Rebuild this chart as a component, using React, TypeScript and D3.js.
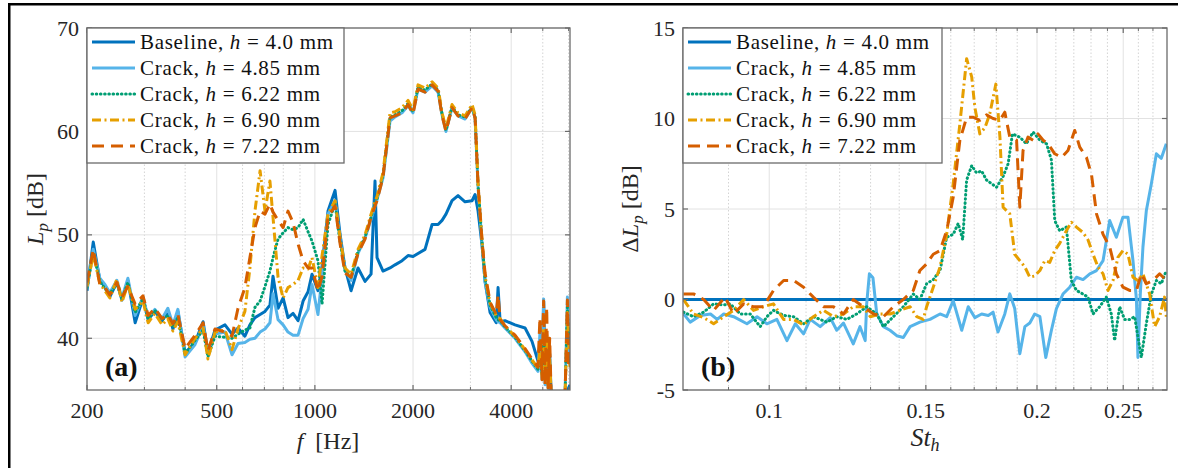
import React from "react";
import * as d3 from "d3";

// ---------------- data: panel (a) ----------------
const freqHz = [200, 209, 219, 227, 235, 247, 256, 267, 281, 297, 308, 323, 340, 354, 367, 380, 400, 429, 454, 470, 494, 530, 557, 581, 610, 632, 655, 679, 703, 728, 744, 771, 799, 827, 857, 888, 920, 953, 980, 1022, 1052, 1097, 1153, 1194, 1237, 1291, 1356, 1425, 1487, 1529, 1551, 1618, 1700, 1761, 1851, 1931, 2000, 2072, 2177, 2288, 2387, 2455, 2524, 2634, 2748, 2888, 3034, 3100, 3166, 3256, 3326, 3446, 3600, 3646, 3700, 3830, 4110, 4412, 4634, 4835, 4900, 4974, 5030, 5082, 5140, 5190, 5250, 5300, 5452, 5648, 5852, 5950, 6000, 6060];

const lpBaseline = [44.6, 49.3, 45.6, 45.0, 44.0, 45.4, 43.7, 45.6, 41.5, 43.9,
  41.8, 42.6, 41.7, 42.6, 40.9, 42.6, 38.6, 39.6, 41.6, 38.6,
  40.8, 41.3, 40.4, 41.0, 40.2, 41.3, 42.0, 42.3, 42.6, 43.2,
  46.0, 42.9, 43.9, 42.0, 42.4, 41.7, 43.6, 44.5, 46.2, 44.6,
  47.0, 52.3, 54.3, 50.1, 46.8, 44.6, 46.8, 45.5, 46.2, 55.2,
  47.8, 46.5, 46.8, 47.1, 47.5, 48.0, 47.9, 48.2, 48.6, 51.0,
  51.0, 51.4, 52.0, 53.3, 53.8, 53.2, 53.3, 53.9, 52.3, 49.0,
  45.5, 42.5, 41.5, 44.9, 41.6, 41.7, 41.3, 41.0, 39.7, 37.8,
  39.5, 36.5, 43.6, 37.0, 40.0, 36.0, 38.5, 35.0, 34.5, 34.3,
  34.5, 34.8, 35.2, 35.5];

const lpCrack485 = [44.8, 48.6, 45.8, 45.2, 44.4, 45.6, 43.9, 45.8, 42.2, 44.0,
  42.0, 42.8, 41.9, 42.9, 41.3, 42.8, 38.2, 39.4, 41.2, 38.5,
  40.4, 40.6, 38.4, 39.5, 39.6, 39.9, 40.0, 40.6, 40.9, 41.5,
  44.3, 41.8, 41.3, 40.6, 40.3, 40.3, 41.9, 42.8, 45.2, 42.3,
  46.0, 52.0, 53.3, 49.6, 46.6, 45.6, 48.2, 49.7, 51.5, 52.8,
  53.4, 55.5, 61.0, 61.4, 61.8, 62.5, 61.8, 64.1, 63.8, 64.4,
  63.8, 61.6, 60.0, 62.3, 61.5, 61.2, 62.3, 61.3, 54.6, 49.1,
  45.5, 43.0, 41.8, 41.6, 41.5, 41.0, 40.0, 38.7, 37.6, 36.8,
  40.5, 36.0, 43.8, 35.5, 38.0, 35.2, 35.0, 34.5, 34.3, 34.3,
  34.5, 44.0, 38.0, 40.5];

const lpCrack622 = [44.9, 48.3, 45.5, 44.8, 44.3, 45.3, 43.8, 45.4, 42.5, 43.8,
  41.9, 42.7, 41.8, 42.2, 41.2, 42.0, 38.5, 39.8, 40.8, 38.2,
  40.2, 40.1, 40.0, 40.4, 40.8, 41.0, 43.0, 43.6, 45.0, 46.5,
  47.8, 49.6, 50.2, 50.7, 50.5, 50.7, 51.5, 50.3, 49.4, 47.5,
  43.3, 51.0, 53.0, 49.4, 46.5, 45.9, 48.4, 49.8, 51.7, 53.0,
  53.5, 55.8, 61.4, 61.6, 62.0, 62.7, 61.9, 64.3, 64.0, 64.6,
  64.0, 61.7, 60.1, 62.4, 61.6, 61.4, 62.4, 61.4, 54.8, 49.3,
  45.8, 43.2, 42.0, 41.8, 41.7, 41.1, 40.1, 38.8, 37.8, 37.0,
  38.0, 36.5, 40.0, 36.0, 39.5, 35.5, 37.0, 35.0, 34.5, 34.3,
  34.5, 43.0, 39.5, 41.0];

const lpCrack690 = [45.0, 48.1, 45.3, 44.6, 43.9, 45.7, 43.5, 45.2, 42.8, 43.6,
  41.5, 42.4, 41.3, 41.9, 40.7, 41.6, 38.4, 40.0, 41.0, 38.0,
  40.6, 40.8, 38.9, 40.9, 42.6, 46.8, 52.3, 56.2, 52.3, 55.2,
  51.7, 45.9, 43.9, 44.9, 45.2, 45.6, 46.8, 46.7, 47.8, 44.9,
  48.0, 52.0, 53.3, 49.8, 46.8, 46.2, 48.6, 50.0, 52.0, 53.2,
  53.7, 56.0, 61.8, 61.9, 62.3, 63.0, 62.1, 64.5, 64.2, 64.8,
  64.2, 61.8, 60.3, 62.6, 61.8, 61.5, 62.6, 61.6, 55.0, 49.5,
  46.0, 43.4, 42.2, 42.0, 41.9, 41.2, 40.2, 38.9, 37.9, 37.1,
  39.0, 36.3, 41.0, 35.8, 40.5, 35.3, 38.0, 35.0, 34.5, 34.3,
  34.5, 42.5, 40.0, 37.0];

const lpCrack722 = [45.4, 48.6, 45.2, 44.9, 44.2, 45.4, 44.0, 45.0, 43.3, 44.1,
  42.2, 42.9, 41.9, 42.3, 41.4, 42.3, 39.0, 40.3, 41.5, 38.8,
  40.9, 40.6, 40.2, 42.9, 44.9, 47.8, 50.7, 52.3, 52.0, 53.0,
  52.2, 51.4, 50.7, 52.3, 51.2, 49.1, 47.5, 46.8, 46.8, 44.6,
  46.0, 51.7, 52.8, 49.2, 46.3, 45.9, 48.2, 49.6, 51.7, 52.8,
  53.3, 55.6, 61.3, 61.5, 61.8, 62.6, 61.7, 64.1, 63.8, 64.5,
  63.9, 61.5, 60.0, 62.3, 61.5, 61.2, 62.3, 61.3, 54.8, 49.4,
  46.3, 43.5, 42.3, 44.2, 41.8, 41.2, 40.3, 39.0, 38.0, 37.2,
  42.0, 36.0, 43.6, 35.5, 43.0, 35.2, 40.0, 35.0, 34.5, 34.3,
  34.5, 43.7, 37.5, 38.0];

// ---------------- data: panel (b) ----------------
const stBaseline = [0.08, 0.28];
const dLpBaseline = [0, 0];

const st485 = [0.0801, 0.0815, 0.0837, 0.0859, 0.0874, 0.0889, 0.0912, 0.0944, 0.0969, 0.0994,
  0.1020, 0.1047, 0.1070, 0.1093, 0.1112, 0.1141, 0.1171, 0.1191, 0.1212, 0.1243,
  0.1265, 0.1282, 0.1287, 0.1296, 0.1308, 0.1321, 0.1344, 0.1367, 0.1391, 0.1415,
  0.1440, 0.1477, 0.1516, 0.1556, 0.1583, 0.1610, 0.1646, 0.1674, 0.1703, 0.1733,
  0.1763, 0.1785, 0.1808, 0.1840, 0.1864, 0.1888, 0.1913, 0.1938, 0.1963, 0.1988,
  0.2015, 0.2046, 0.2076, 0.2103, 0.2139, 0.2177, 0.2215, 0.2253, 0.2293, 0.2333,
  0.2373, 0.2414, 0.2456, 0.2498, 0.2531, 0.2564, 0.2587, 0.2597, 0.2613, 0.2631,
  0.2654, 0.2689, 0.2724, 0.2759, 0.2795];
const dLp485 = [-0.79, -1.25, -0.88, -0.80, -1.10, -0.80, -0.95, -1.34, -0.95, -1.34,
  -1.10, -2.27, -1.34, -1.90, -1.10, -1.50, -1.00, -1.70, -1.30, -2.45,
  -1.50, -2.27, -0.24, 1.42, 1.20, -0.79, -1.50, -1.70, -2.00, -2.10,
  -1.50, -1.25, -1.10, -0.80, -0.95, -0.06, -1.70, -0.40, -1.00, -0.80,
  -0.88, -0.70, -1.80, -0.80, 0.31, -0.50, -3.00, -1.50, -1.30, -0.80,
  -0.95, -3.20, -1.70, -0.50, 0.30, 0.68, 1.23, 1.10, 1.42, 1.60,
  2.15, 4.36, 3.44, 4.55, 4.55, 2.15, 0.00, -3.20, 0.30, 2.90,
  4.90, 6.40, 8.05, 7.80, 8.60];

const st622 = [0.0801, 0.0822, 0.0844, 0.0866, 0.0889, 0.0904, 0.0928, 0.0952, 0.0977, 0.0994,
  0.1011, 0.1038, 0.1065, 0.1093, 0.1121, 0.1161, 0.1191, 0.1222, 0.1254, 0.1287,
  0.1321, 0.1344, 0.1379, 0.1415, 0.1452, 0.1477, 0.1503, 0.1529, 0.1556, 0.1583,
  0.1610, 0.1631, 0.1650, 0.1667, 0.1689, 0.1710, 0.1733, 0.1755, 0.1778, 0.1801,
  0.1832, 0.1856, 0.1877, 0.1913, 0.1946, 0.1980, 0.2015, 0.2050, 0.2076, 0.2094,
  0.2121, 0.2158, 0.2186, 0.2215, 0.2253, 0.2282, 0.2312, 0.2352, 0.2393, 0.2424,
  0.2445, 0.2477, 0.2509, 0.2542, 0.2575, 0.2620, 0.2654, 0.2689, 0.2724, 0.2759,
  0.2795];
const dLp622 = [-0.70, -0.95, -0.70, -0.24, -0.30, -0.24, -0.80, -0.80, -1.50, -0.95,
  -0.60, -0.88, -0.95, -1.34, -0.95, -1.25, -0.95, -1.10, -0.80, -0.40,
  -0.80, -1.50, -0.95, -0.40, 0.30, 0.00, 0.87, 1.10, 1.60, 3.44,
  3.60, 4.20, 3.30, 6.60, 7.40, 7.00, 7.10, 6.60, 6.40, 6.20,
  6.80, 7.50, 9.15, 8.97, 8.60, 9.25, 8.80, 8.60, 7.70, 4.36,
  3.80, 4.00, 1.05, 0.50, 0.30, 0.13, -0.80, -0.40, 0.13, -0.80,
  -2.27, -0.40, -1.10, -1.10, -0.95, -3.20, -1.34, 0.30, 1.05, 0.87,
  1.60];

const st690 = [0.0801, 0.0822, 0.0844, 0.0866, 0.0889, 0.0912, 0.0936, 0.0960, 0.0985, 0.1011,
  0.1038, 0.1065, 0.1093, 0.1121, 0.1151, 0.1181, 0.1212, 0.1243, 0.1276, 0.1299,
  0.1332, 0.1367, 0.1403, 0.1440, 0.1465, 0.1490, 0.1503, 0.1529, 0.1556, 0.1583,
  0.1610, 0.1638, 0.1667, 0.1689, 0.1703, 0.1725, 0.1748, 0.1770, 0.1798, 0.1817,
  0.1832, 0.1864, 0.1888, 0.1913, 0.1938, 0.1963, 0.1988, 0.2015, 0.2041, 0.2067,
  0.2094, 0.2121, 0.2158, 0.2186, 0.2215, 0.2253, 0.2282, 0.2312, 0.2342, 0.2373,
  0.2403, 0.2435, 0.2466, 0.2498, 0.2531, 0.2564, 0.2597, 0.2631, 0.2677, 0.2712,
  0.2747, 0.2782, 0.2795];
const dLp690 = [0.00, -0.80, -1.00, -1.34, -0.95, -0.60, 0.00, -0.60, -0.40, -0.24,
  -1.10, -1.10, -1.40, -0.95, -0.60, -0.95, -0.80, -0.40, -0.40, -0.95,
  -0.80, -0.80, -0.60, -0.40, -0.95, -1.10, -0.40, 0.68, 1.80, 3.60,
  6.40, 9.70, 13.30, 12.30, 10.60, 9.15, 9.50, 10.26, 11.90, 8.97,
  5.10, 4.73, 2.50, 2.15, 1.80, 1.23, 1.30, 1.60, 2.15, 2.05,
  2.70, 3.10, 3.80, 4.27, 4.00, 3.70, 3.30, 2.50, 1.80, 1.42,
  0.50, 1.05, 2.33, 2.70, 2.50, 1.23, 1.05, 1.42, 0.30, -1.50,
  -0.95, 0.13, -0.95];

const st722 = [0.0801, 0.0822, 0.0844, 0.0866, 0.0892, 0.0912, 0.0936, 0.0960, 0.0985, 0.1011,
  0.1038, 0.1065, 0.1093, 0.1121, 0.1151, 0.1181, 0.1212, 0.1243, 0.1276, 0.1310,
  0.1344, 0.1379, 0.1415, 0.1452, 0.1477, 0.1503, 0.1529, 0.1556, 0.1583, 0.1610,
  0.1638, 0.1667, 0.1696, 0.1725, 0.1755, 0.1785, 0.1817, 0.1840, 0.1864, 0.1897,
  0.1913, 0.1929, 0.1954, 0.1980, 0.2005, 0.2032, 0.2058, 0.2094, 0.2131, 0.2167,
  0.2205, 0.2234, 0.2273, 0.2303, 0.2333, 0.2373, 0.2414, 0.2456, 0.2498, 0.2542,
  0.2587, 0.2620, 0.2654, 0.2700, 0.2747, 0.2795];
const dLp722 = [0.31, 0.31, 0.00, -0.60, 0.13, -0.80, -0.24, -0.40, -0.40, 0.50,
  1.05, 1.05, 0.68, 0.13, -0.40, -0.40, -0.80, 0.00, -0.40, -0.80,
  -0.95, -0.40, 0.00, 0.50, 1.60, 1.97, 2.50, 2.70, 3.80, 5.65,
  8.80, 10.07, 10.07, 9.90, 10.20, 10.00, 9.90, 10.35, 8.97, 8.80,
  5.10, 8.23, 8.97, 8.80, 9.15, 8.80, 8.60, 8.05, 7.85, 8.23,
  9.34, 8.42, 7.85, 6.90, 4.73, 3.60, 2.90, 1.42, 0.68, 0.50,
  0.50, 1.42, 0.87, 1.05, 1.42, 1.05];

// ---------------- labels & ticks ----------------
const seriesNames = ["Baseline", "Crack", "Crack", "Crack", "Crack"];
const heightsMm = ["4.0", "4.85", "6.22", "6.90", "7.22"];

const xTicksA = [200, 500, 1000, 2000, 4000];
const xMinorA = [300, 400, 600, 700, 800, 900, 3000, 5000, 6000];
const yTicksA = [40, 50, 60, 70];
const xTicksB = [0.1, 0.15, 0.2, 0.25];
const xMinorB = [0.09, 0.11, 0.12, 0.13, 0.14, 0.16, 0.17, 0.18, 0.19, 0.21, 0.22, 0.23, 0.24, 0.26, 0.27];
const yTicksB = [-5, 0, 5, 10, 15];

// ---------------- styles ----------------
const FONT = "'Liberation Serif', 'Times New Roman', serif";
const STYLES = [
  { color: "#0072BD", dash: undefined as string | undefined, w: 3, cap: "butt" },
  { color: "#56B4E9", dash: undefined as string | undefined, w: 3, cap: "butt" },
  { color: "#009E73", dash: "0.6 3.6", w: 3, cap: "round" },
  { color: "#E69F00", dash: "9 3.5 2 3.5", w: 3, cap: "butt" },
  { color: "#D55E00", dash: "12 7", w: 3, cap: "butt" },
];
const AXIS = "#6b6b6b";

type Box = { l: number; r: number; t: number; b: number };

function Panel(props: {
  id: string;
  box: Box;
  x: d3.ScaleLogarithmic<number, number>;
  y: d3.ScaleLinear<number, number>;
  xTicks: number[];
  xMinor: number[];
  yTicks: number[];
  lines: { xs: number[]; ys: number[] }[];
  tag: string;
}) {
  const { id, box, x, y, xTicks, xMinor, yTicks, lines, tag } = props;
  const lineGen = d3
    .line<[number, number]>()
    .x((d) => x(d[0]))
    .y((d) => y(d[1]));
  const legW = id === "a" ? 257 : 259;
  return (
    <g>
      <defs>
        <clipPath id={"clip" + id}>
          <rect x={box.l} y={box.t} width={box.r - box.l} height={box.b - box.t} />
        </clipPath>
      </defs>
      {/* grid */}
      {xMinor.map((v) => (
        <line key={"xm" + v} x1={x(v)} x2={x(v)} y1={box.t} y2={box.b} stroke="#cfcfcf" strokeWidth={0.9} strokeDasharray="1.5 2" />
      ))}
      {xTicks.map((v) => (
        <line key={"xg" + v} x1={x(v)} x2={x(v)} y1={box.t} y2={box.b} stroke="#e2e2e2" strokeWidth={1} />
      ))}
      {yTicks.map((v) => (
        <line key={"yg" + v} x1={box.l} x2={box.r} y1={y(v)} y2={y(v)} stroke="#e2e2e2" strokeWidth={1} />
      ))}
      {/* data */}
      <g clipPath={`url(#clip${id})`}>
        {lines.map((s, i) => (
          <path
            key={i}
            d={lineGen(s.xs.map((v, k) => [v, s.ys[k]] as [number, number])) || ""}
            fill="none"
            stroke={STYLES[i].color}
            strokeWidth={STYLES[i].w}
            strokeDasharray={STYLES[i].dash}
            strokeLinecap={STYLES[i].cap as any}
            strokeLinejoin="round"
          />
        ))}
      </g>
      {/* axes box */}
      <rect x={box.l} y={box.t} width={box.r - box.l} height={box.b - box.t} fill="none" stroke={AXIS} strokeWidth={1.3} />
      {/* ticks */}
      {xTicks.map((v) => (
        <g key={"xt" + v}>
          <line x1={x(v)} x2={x(v)} y1={box.b} y2={box.b - 5} stroke={AXIS} strokeWidth={1.2} />
          <line x1={x(v)} x2={x(v)} y1={box.t} y2={box.t + 5} stroke={AXIS} strokeWidth={1.2} />
          <text x={x(v)} y={box.b + 28} textAnchor="middle" fontFamily={FONT} fontSize={22} fill="#262626">
            {String(v)}
          </text>
        </g>
      ))}
      {xMinor.map((v) => (
        <g key={"xmt" + v}>
          <line x1={x(v)} x2={x(v)} y1={box.b} y2={box.b - 3} stroke={AXIS} strokeWidth={1} />
          <line x1={x(v)} x2={x(v)} y1={box.t} y2={box.t + 3} stroke={AXIS} strokeWidth={1} />
        </g>
      ))}
      {yTicks.map((v) => (
        <g key={"yt" + v}>
          <line x1={box.l} x2={box.l + 5} y1={y(v)} y2={y(v)} stroke={AXIS} strokeWidth={1.2} />
          <line x1={box.r} x2={box.r - 5} y1={y(v)} y2={y(v)} stroke={AXIS} strokeWidth={1.2} />
          <text x={box.l - 8} y={y(v) + 7.5} textAnchor="end" fontFamily={FONT} fontSize={22} fill="#262626">
            {String(v)}
          </text>
        </g>
      ))}
      {/* panel tag */}
      <text x={box.l + 18} y={376} fontFamily={FONT} fontSize={28} fontWeight="bold" fill="#111">
        {tag}
      </text>
      {/* legend */}
      <rect x={box.l} y={box.t} width={legW} height={135} fill="#fff" stroke={AXIS} strokeWidth={1.3} />
      {seriesNames.map((nm, i) => {
        const cy = box.t + 14 + i * 26;
        return (
          <g key={"lg" + i}>
            <line x1={box.l + 5} x2={box.l + 48} y1={cy} y2={cy} stroke={STYLES[i].color} strokeWidth={STYLES[i].w} strokeDasharray={STYLES[i].dash} strokeLinecap={STYLES[i].cap as any} />
            <text x={box.l + 53} y={cy + 7} fontFamily={FONT} fontSize={21} fill="#111" letterSpacing={0.7} xmlSpace="preserve">
              {nm + ", "}
              <tspan fontStyle="italic">h</tspan>
              {" = " + heightsMm[i] + " mm"}
            </text>
          </g>
        );
      })}
    </g>
  );
}

export default function App() {
  const boxA: Box = { l: 87, r: 570, t: 28, b: 390 };
  const boxB: Box = { l: 683, r: 1167, t: 28, b: 390 };
  const xA = d3.scaleLog().domain([200, 6060]).range([boxA.l, boxA.r]);
  const yA = d3.scaleLinear().domain([35, 70]).range([boxA.b, boxA.t]);
  const xB = d3.scaleLog().domain([0.08, 0.28]).range([boxB.l, boxB.r]);
  const yB = d3.scaleLinear().domain([-5, 15]).range([boxB.b, boxB.t]);

  const linesA = [
    { xs: freqHz, ys: lpBaseline },
    { xs: freqHz, ys: lpCrack485 },
    { xs: freqHz, ys: lpCrack622 },
    { xs: freqHz, ys: lpCrack690 },
    { xs: freqHz, ys: lpCrack722 },
  ];
  const linesB = [
    { xs: stBaseline, ys: dLpBaseline },
    { xs: st485, ys: dLp485 },
    { xs: st622, ys: dLp622 },
    { xs: st690, ys: dLp690 },
    { xs: st722, ys: dLp722 },
  ];

  return (
    <svg width={1178} height={468} style={{ position: "absolute", left: 0, top: 0, background: "#fff" }}>
      <rect x={0} y={0} width={1178} height={468} fill="#fff" />
      <rect x={9.25} y={4.25} width={1200} height={500} fill="none" stroke="#000" strokeWidth={2.5} />
      <Panel id="a" box={boxA} x={xA} y={yA} xTicks={xTicksA} xMinor={xMinorA} yTicks={yTicksA} lines={linesA} tag="(a)" />
      <Panel id="b" box={boxB} x={xB} y={yB} xTicks={xTicksB} xMinor={xMinorB} yTicks={yTicksB} lines={linesB} tag="(b)" />
      {/* axis labels */}
      <text transform="translate(43,209) rotate(-90)" textAnchor="middle" fontFamily={FONT} fontSize={24} fill="#262626">
        <tspan fontStyle="italic">L</tspan>
        <tspan fontStyle="italic" fontSize={17} dy={5}>p</tspan>
        <tspan dy={-5}>{" [dB]"}</tspan>
      </text>
      <text transform="translate(638,209) rotate(-90)" textAnchor="middle" fontFamily={FONT} fontSize={24} fill="#262626">
        {"Δ"}
        <tspan fontStyle="italic">L</tspan>
        <tspan fontStyle="italic" fontSize={17} dy={5}>p</tspan>
        <tspan dy={-5}>{" [dB]"}</tspan>
      </text>
      <text x={328} y={449} textAnchor="middle" fontFamily={FONT} fontSize={24} fill="#262626" xmlSpace="preserve">
        <tspan fontStyle="italic">f</tspan>
        {"  [Hz]"}
      </text>
      <text x={925} y={446} textAnchor="middle" fontFamily={FONT} fontSize={26} fill="#262626">
        <tspan fontStyle="italic">St</tspan>
        <tspan fontStyle="italic" fontSize={18} dy={5}>h</tspan>
      </text>
    </svg>
  );
}
